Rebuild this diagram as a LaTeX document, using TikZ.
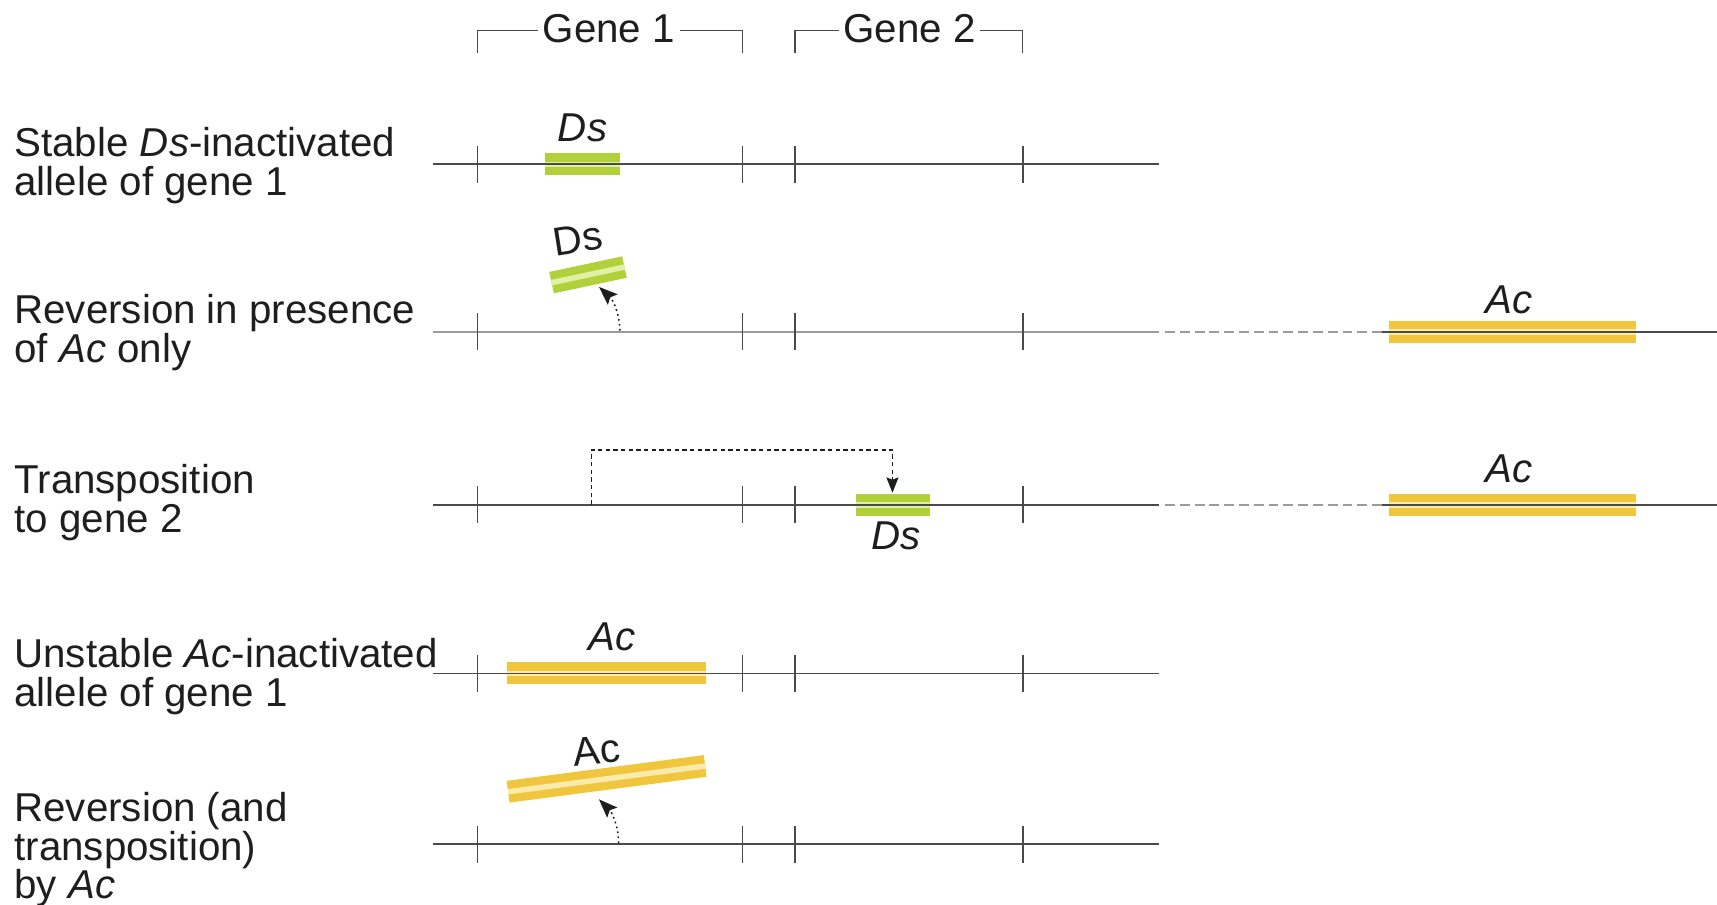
\documentclass[tikz,border=0pt]{standalone}
\usepackage{fontspec}
\setmainfont{Liberation Sans}
\usetikzlibrary{arrows.meta}

\definecolor{chrom}{HTML}{4A4A4A}
\definecolor{chromlight}{HTML}{9C9C9C}
\definecolor{dsgreen}{HTML}{B2D03A}
\definecolor{dslight}{HTML}{E2EFA6}
\definecolor{acyellow}{HTML}{F0C63C}
\definecolor{aclight}{HTML}{FBEBAA}
\definecolor{ink}{HTML}{1E1E1E}

\begin{document}
\begin{tikzpicture}[x=1pt,y=-1pt,
  every node/.style={text=ink, inner sep=0pt, font=\fontsize{36.8pt}{35.5pt}\selectfont},
  chromline/.style={draw=chrom, line width=1.5pt},
  paleline/.style={draw=chromlight, line width=1.7pt},
  tickmark/.style={draw=chrom, line width=1.5pt},
  linkdash/.style={draw=chromlight, line width=1.7pt, dash pattern=on 9pt off 4.5pt},
  dsbar/.style={draw=dsgreen, double=dslight, line width=7.5pt, double distance=5pt},
  acbar/.style={draw=acyellow, double=aclight, line width=7.5pt, double distance=5pt},
  rowtext/.style={anchor=north west, align=left},
  genetext/.style={anchor=base, inner xsep=4pt},
  bracket/.style={draw=chrom, line width=1.3pt},
  revarrow/.style={draw=ink, line width=1.4pt, dash pattern=on 1.6pt off 3pt,
    -{Stealth[length=17pt,width=13pt,inset=3pt]}},
  transarrow/.style={draw=ink, line width=1.2pt, dash pattern=on 4pt off 3pt,
    -{Stealth[length=14pt,width=11pt,inset=2pt]}},
]
\useasboundingbox (0,0) rectangle (1568,826);

% ---- gene brackets ----
\node[genetext] (g1) at (556,39) {Gene 1};
\node[genetext] (g2) at (830.5,39) {Gene 2};
\draw[bracket] (436,48) -- (436,28) -- (g1.west |- 0,28);
\draw[bracket] (g1.east |- 0,28) -- (678,28) -- (678,48);
\draw[bracket] (726,48) -- (726,28) -- (g2.west |- 0,28);
\draw[bracket] (g2.east |- 0,28) -- (934,28) -- (934,48);

% ---- row labels ----
\node[rowtext] (t1) at (13,116) {Stable \textit{Ds}-inactivated\\allele of gene 1};
\node[rowtext] (t2) at (13,269) {Reversion in presence\\of \textit{Ac} only};
\node[rowtext] (t3) at (13,424) {Transposition\\to gene 2};
\node[rowtext] (t4) at (13,583) {Unstable \textit{Ac}-inactivated\\allele of gene 1};
\node[rowtext] (t5) at (13,723) {Reversion (and\\transposition)\\by \textit{Ac}};

% ---- element bars ----
\draw[dsbar] (498,150) -- (566,150);
\draw[dsbar] (503.7,258.1) -- (570.3,243.9);
\draw[acbar] (1268,303) -- (1494,303);
\draw[dsbar] (782,461) -- (849,461);
\draw[acbar] (1268,461) -- (1494,461);
\draw[acbar] (463,615) -- (645,615);
\draw[acbar] (464,723) -- (644,699.5);

% ---- chromosomes ----
\draw[chromline] (395,150) -- (1058,150);
\draw[paleline] (395,303) -- (1058,303);
\draw[linkdash] (1064,303) -- (1262,303);
\draw[chromline] (1262,303) -- (1568,303);
\draw[chromline] (395,461) -- (1058,461);
\draw[linkdash] (1064,461) -- (1262,461);
\draw[chromline] (1262,461) -- (1568,461);
\draw[chromline] (395,615) -- (1058,615);
\draw[chromline] (395,771) -- (1058,771);

% gene boundary ticks on every row
\foreach \y in {150,303,461,615,771}
  \foreach \x in {436,678,726,934}
    \draw[tickmark] (\x,\y-17) -- (\x,\y+17);

% ---- element labels ----
\node[anchor=base] (ds1) at (532,129) {\textit{Ds}};
\node[rotate=9] (ds2) at (528,218) {Ds};
\node[anchor=base] (ac2) at (1378,286) {\textit{Ac}};
\node[anchor=base] (ac3) at (1378,441) {\textit{Ac}};
\node[anchor=base] (ds3) at (818,502) {\textit{Ds}};
\node[anchor=base] (ac4) at (559,594) {\textit{Ac}};
\node[rotate=6] (ac5) at (545,685) {Ac};

% ---- excision and transposition arrows ----
\coordinate (from2) at (566,302);
\coordinate (to2) at (547,262);
\draw[revarrow] (from2) .. controls (566,287) and (560,274) .. (to2);

\coordinate (from5) at (565,770);
\coordinate (to5) at (547,730);
\draw[revarrow] (from5) .. controls (565,755) and (559,742) .. (to5);

\coordinate (from3) at (540,461);
\coordinate (turn3) at (815,411);
\coordinate (to3) at (815,450);
\draw[transarrow] (from3) -- (from3 |- turn3) -- (turn3) -- (to3);

\end{tikzpicture}
\end{document}
